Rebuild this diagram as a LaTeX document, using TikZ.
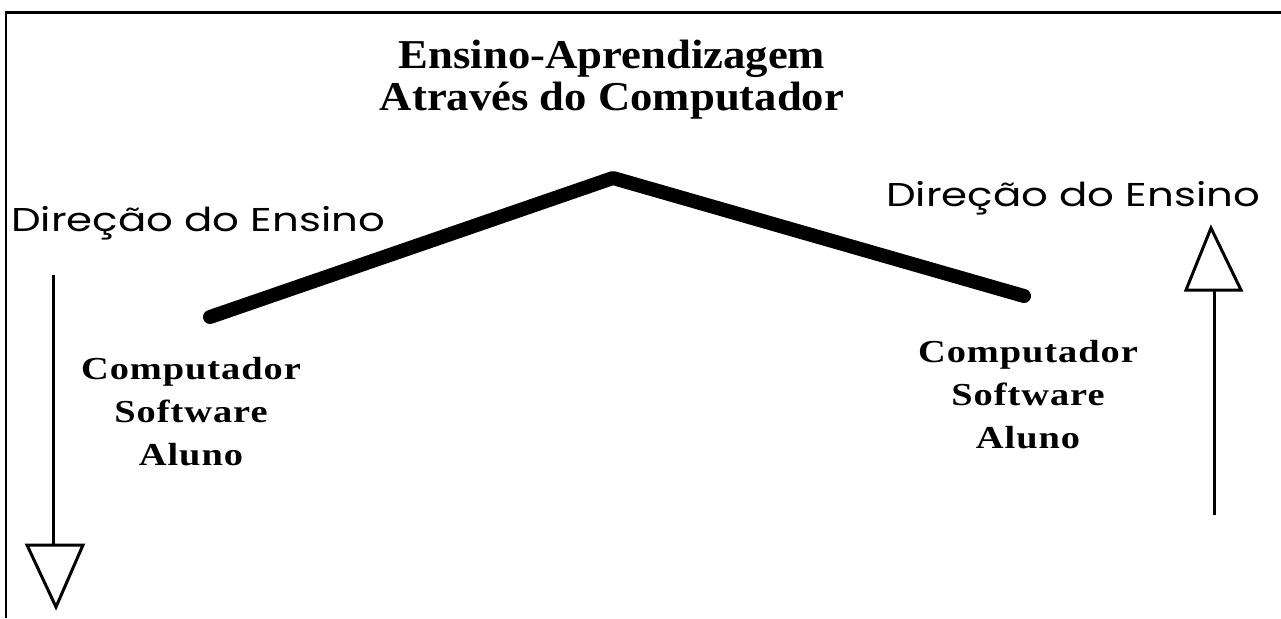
\documentclass[tikz,border=0pt]{standalone}
\usepackage{fontspec}
\setmainfont{Liberation Serif}
\newfontfamily\titlefont[FakeStretch=1.09]{Liberation Serif}
\newfontfamily\labelfont[FakeStretch=1.2,LetterSpace=3]{Liberation Serif}
\newfontfamily\gothic[FakeStretch=1.27]{Poppins}
\begin{document}
\begin{tikzpicture}[x=1pt,y=-1pt,
  title/.style={font=\titlefont\bfseries\fontsize{41}{42}\selectfont, align=center, inner sep=0pt},
  stack/.style={font=\labelfont\bfseries\fontsize{32}{43}\selectfont, align=center, inner sep=0pt},
  dirlabel/.style={font=\gothic\fontsize{33}{36}\selectfont, anchor=base west, inner sep=0pt},
  ridge/.style={line width=14pt, line cap=round, line join=round},
  shaft/.style={line width=3pt},
  openhead/.style={line width=3pt, line join=miter, fill=white}]
  \useasboundingbox (0,0) rectangle (1281,618);
  % frame edges
  \draw[line width=2.2pt] (6,618) -- (6,12.5) -- (1281,12.5);

  % heading
  \node[title] (head) at (612,80) {Ensino-Aprendizagem\\Através do Computador};

  % ridge line
  \coordinate (rl) at (210,317);
  \coordinate (rt) at (613,178);
  \coordinate (rr) at (1024,296);
  \draw[ridge] (rl) -- (rt) -- (rr);

  % side labels
  \node[dirlabel] (dl) at (11,231) {Direção do Ensino};
  \node[dirlabel] (dr) at (886,206) {Direção do Ensino};

  \node[stack, anchor=base] (sl) at (191,465) {Computador\\Software\\Aluno};
  \node[stack, anchor=base] (sr) at (1028,448) {Computador\\Software\\Aluno};

  % downward arrow (left)
  \coordinate (ls) at (53,275);
  \coordinate (lb) at (53,545);
  \draw[shaft] (ls) -- (lb);
  \draw[openhead] (27,545) -- (83,545) -- (56,607) -- cycle;

  % upward arrow (right)
  \coordinate (rs) at (1214,515);
  \coordinate (rb) at (1214,290);
  \draw[shaft] (rs) -- (rb);
  \draw[openhead] (1186,290) -- (1241,290) -- (1211,228) -- cycle;
\end{tikzpicture}
\end{document}
